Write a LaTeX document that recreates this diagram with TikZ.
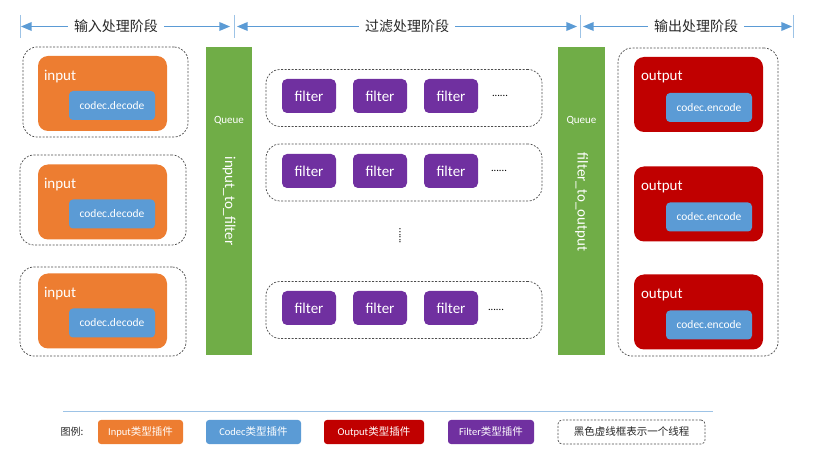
\documentclass[tikz,border=0pt]{standalone}
\usepackage{fontspec}
\setmainfont{Carlito}
\newfontfamily\cjk{Noto Sans CJK SC}
\usepackage{tikz}
\usetikzlibrary{shapes.geometric, arrows, positioning}
\definecolor{inorange}{HTML}{ED7D31}
\definecolor{codecblue}{HTML}{5B9BD5}
\definecolor{outred}{HTML}{C00000}
\definecolor{filterpurple}{HTML}{7030A0}
\definecolor{queuegreen}{HTML}{70AD47}
\definecolor{tickblue}{HTML}{9DC3E6}
\tikzstyle{arrow} = [line width=1.5pt,draw=codecblue,->,>=triangle 45]
\tikzstyle{thread} = [draw=black!70,line width=0.7pt,dash pattern=on 2pt off 1.5pt,rounded corners=14pt,minimum width=166pt,minimum height=90pt]
\tikzstyle{inbox} = [fill=inorange,rounded corners=10pt,minimum width=129pt,minimum height=75pt]
\tikzstyle{outbox} = [fill=outred,rounded corners=10pt,minimum width=129pt,minimum height=75pt]
\tikzstyle{codec} = [fill=codecblue,text=white,rounded corners=4pt,minimum width=86pt,minimum height=29pt,inner sep=0pt,font=\fontsize{11.5}{13}\selectfont]
\tikzstyle{boxlabel} = [text=white,anchor=west,inner sep=0pt,font=\fontsize{15}{17}\selectfont]
\tikzstyle{filter} = [fill=filterpurple,text=white,rounded corners=5pt,minimum width=54pt,minimum height=34pt,inner sep=0pt,font=\fontsize{15}{17}\selectfont]
\tikzstyle{queue} = [fill=queuegreen,minimum width=46pt,minimum height=308pt,inner sep=0pt]
\tikzstyle{queuetext} = [text=white,inner sep=0pt,font=\fontsize{15}{17}\selectfont]
\tikzstyle{stage} = [text=black!85,inner sep=6pt,font=\cjk\fontsize{14}{16}\selectfont]
\tikzstyle{dots} = [inner sep=0pt,text=black,font=\fontsize{10.5}{11}\selectfont]
\tikzstyle{legend} = [text=white,rounded corners=3pt,minimum height=24pt,inner sep=0pt,font=\fontsize{10.5}{12}\selectfont]

\begin{document}
\begin{tikzpicture}[x=1pt,y=-1pt,node distance=71pt]
\useasboundingbox (0,0) rectangle (823,465);

% stages
\draw [tickblue,line width=0.8pt] (20,15) -- (20,38);
\draw [tickblue,line width=0.8pt] (234,15) -- (234,38);
\draw [tickblue,line width=0.8pt] (580,15) -- (580,38);
\draw [tickblue,line width=0.8pt] (793,15) -- (793,38);
\node [stage] (st1) at (116,26.5) {输入处理阶段};
\node [stage] (st2) at (407,26.5) {过滤处理阶段};
\node [stage] (st3) at (696,26.5) {输出处理阶段};
\coordinate (a1l) at (21,26.5);
\coordinate (a1r) at (230,26.5);
\coordinate (a2l) at (237,26.5);
\coordinate (a2r) at (577,26.5);
\coordinate (a3l) at (583,26.5);
\coordinate (a3r) at (792,26.5);
\draw [arrow] (st1) -- (a1l);
\draw [arrow] (st1) -- (a1r);
\draw [arrow] (st2) -- (a2l);
\draw [arrow] (st2) -- (a2r);
\draw [arrow] (st3) -- (a3l);
\draw [arrow] (st3) -- (a3r);

% queues
\node [queue] (q1) at (229,201) {};
\node [text=white,font=\fontsize{11}{13}\selectfont] (q1t) at (229,121) {Queue};
\node [queuetext,rotate=-90] (q1n) at (229,201) {input\_to\_filter};
\node [queue,minimum width=47pt] (q2) at (581.5,201) {};
\node [text=white,font=\fontsize{11}{13}\selectfont] (q2t) at (581.5,121) {Queue};
\node [queuetext,rotate=-90] (q2n) at (581.5,202) {filter\_to\_output};

% input threads
\node [thread,minimum width=165pt] (th1) at (105.5,92) {};
\node [thread] (th2) at (103,200) {};
\node [thread,minimum height=89pt] (th3) at (103,311.5) {};
\node [inbox] (in1) at (102.5,93.5) {};
\node [boxlabel] (in1t) at ([xshift=6pt,yshift=-20.5pt]in1.north west) {input};
\node [codec,anchor=south east] (dec1) at ([xshift=-12pt,yshift=11pt]in1.south east) {codec.decode};
\node [inbox] (in2) at (102.5,202) {};
\node [boxlabel] (in2t) at ([xshift=6pt,yshift=-20.5pt]in2.north west) {input};
\node [codec,anchor=south east] (dec2) at ([xshift=-12pt,yshift=11pt]in2.south east) {codec.decode};
\node [inbox] (in3) at (102.5,311) {};
\node [boxlabel] (in3t) at ([xshift=6pt,yshift=-20.5pt]in3.north west) {input};
\node [codec,anchor=south east] (dec3) at ([xshift=-12pt,yshift=11pt]in3.south east) {codec.decode};

% filter threads
\node [thread,minimum width=276pt,minimum height=57pt] (row1) at (404,98) {};
\node [filter] (f11) at (309,96) {filter};
\node [filter,right of=f11] (f12) {filter};
\node [filter,right of=f12] (f13) {filter};
\node [dots] (d1) at (500,96) {......};
\node [thread,minimum width=276pt,minimum height=57pt] (row2) at (404,172.5) {};
\node [filter] (f21) at (309,171) {filter};
\node [filter,right of=f21] (f22) {filter};
\node [filter,right of=f22] (f23) {filter};
\node [dots] (d2) at (499,171) {......};
\node [dots,rotate=90] (vd) at (400,236) {......};
\node [thread,minimum width=276pt,minimum height=57pt] (row3) at (404,310) {};
\node [filter] (f31) at (309,308) {filter};
\node [filter,right of=f31] (f32) {filter};
\node [filter,right of=f32] (f33) {filter};
\node [dots] (d3) at (496,310) {......};

% output thread
\node [thread,minimum width=160pt,minimum height=308pt] (th4) at (698,202) {};
\node [outbox] (out1) at (698.5,94.5) {};
\node [boxlabel] (out1t) at ([xshift=7pt,yshift=-20.5pt]out1.north west) {output};
\node [codec,anchor=south east] (enc1) at ([xshift=-11pt,yshift=10pt]out1.south east) {codec.encode};
\node [outbox] (out2) at (698.5,204) {};
\node [boxlabel] (out2t) at ([xshift=7pt,yshift=-20.5pt]out2.north west) {output};
\node [codec,anchor=south east] (enc2) at ([xshift=-11pt,yshift=10pt]out2.south east) {codec.encode};
\node [outbox] (out3) at (698.5,312) {};
\node [boxlabel] (out3t) at ([xshift=7pt,yshift=-20.5pt]out3.north west) {output};
\node [codec,anchor=south east] (enc3) at ([xshift=-11pt,yshift=10pt]out3.south east) {codec.encode};

% legend
\draw [tickblue,line width=1pt] (63,412) -- (713,412);
\node [text=black!85,inner sep=0pt,font=\cjk\fontsize{10}{12}\selectfont] (legt) at (72,432) {图例:};
\node [legend,fill=inorange,minimum width=85pt] (leg1) at (140.5,432) {Input{\cjk 类型插件}};
\node [legend,fill=codecblue,minimum width=95pt] (leg2) at (253.5,432) {Codec{\cjk 类型插件}};
\node [legend,fill=outred,minimum width=100pt] (leg3) at (374,432) {Output{\cjk 类型插件}};
\node [legend,fill=filterpurple,minimum width=86pt] (leg4) at (491,432) {Filter{\cjk 类型插件}};
\node [legend,thread,rounded corners=4pt,minimum width=147pt,minimum height=24pt,text=black!85] (leg5) at (631.5,432) {\cjk 黑色虚线框表示一个线程};
\end{tikzpicture}
\end{document}
